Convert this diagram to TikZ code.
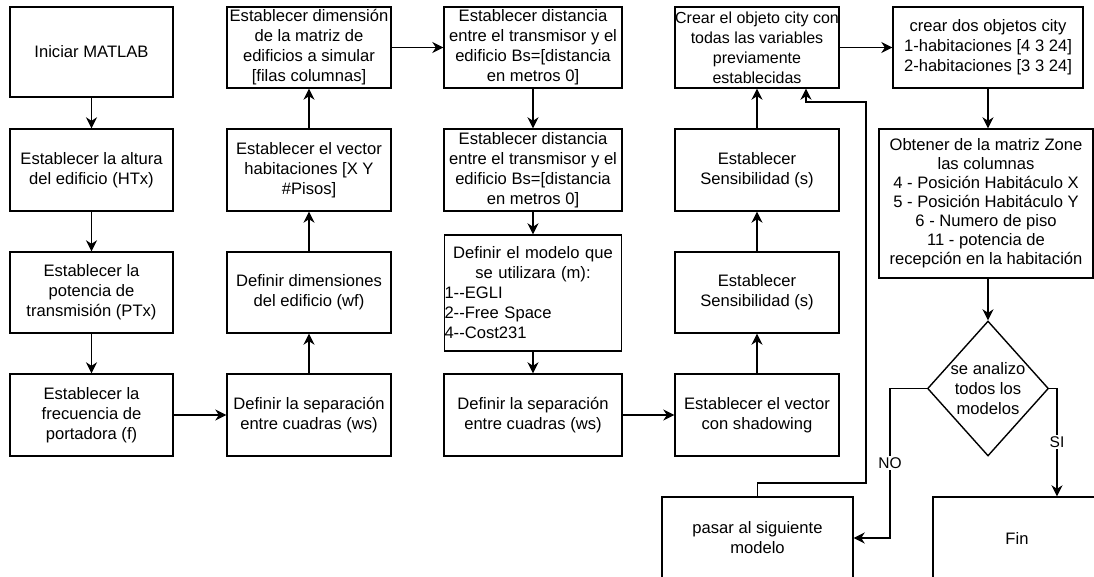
\documentclass[tikz,border=0pt]{standalone}
\usepackage{fontspec}
\setmainfont{Liberation Sans}[Ligatures=TeXOff]
\usetikzlibrary{arrows.meta,shapes.geometric}
\begin{document}
\begin{tikzpicture}[x=1pt,y=-1pt,
  box/.style={draw, line width=1.4pt, inner sep=0pt, align=center, font=\fontsize{16.6}{20}\selectfont},
  lbl/.style={inner sep=1pt, align=center, font=\fontsize{16.6}{20}\selectfont},
  elab/.style={fill=white, inner sep=1.5pt, font=\fontsize{15.5}{18}\selectfont},
  arr/.style={line width=1.4pt, -{Stealth[length=11pt,width=11pt,inset=3.5pt]}}]
\clip (0,0) rectangle (1094,577);
\fill[white] (0,0) rectangle (1094,577);
% column 1
\node[box, minimum width=163pt, minimum height=90pt] (n1) at (91.5,52) {Iniciar MATLAB};
\node[box, minimum width=163pt, minimum height=82pt] (n2) at (91.5,170) {Establecer la altura\\del edificio (HTx)};
\node[box, minimum width=163pt, minimum height=81pt] (n3) at (91.5,292.5) {Establecer la\\potencia de\\transmisión (PTx)};
\node[box, minimum width=163pt, minimum height=82pt] (n4) at (91.5,415) {Establecer la\\frecuencia de\\portadora (f)};
% column 2
\node[box, minimum width=164pt, minimum height=81pt] (m1) at (309,47.5) {Establecer dimensión\\de la matriz de\\edificios a simular\\{[}filas columnas{]}};
\node[box, minimum width=164pt, minimum height=82pt] (m2) at (309,170) {Establecer el vector\\habitaciones [X Y\\\#Pisos]};
\node[box, minimum width=164pt, minimum height=81pt] (m3) at (309,292.5) {Definir dimensiones\\del edificio (wf)};
\node[box, minimum width=164pt, minimum height=82pt] (m4) at (309,415) {Definir la separación\\entre cuadras (ws)};
% column 3
\node[box, minimum width=178pt, minimum height=81pt] (c1) at (533,47.5) {Establecer distancia\\entre el transmisor y el\\edificio Bs=[distancia\\en metros 0{]}};
\node[box, minimum width=178pt, minimum height=82pt] (c2) at (533,170) {Establecer distancia\\entre el transmisor y el\\edificio Bs=[distancia\\en metros 0{]}};
\node[box, minimum height=116pt, text width=177pt, align=left] (c3) at (533,293) {\makebox[177pt]{Definir el modelo que}\\\makebox[177pt]{se utilizara (m):}\\1--EGLI\\2--Free Space\\4--Cost231};
\node[box, minimum width=178pt, minimum height=82pt] (c4) at (533,415) {Definir la separación\\entre cuadras (ws)};
% column 4
\node[box, minimum width=164pt, minimum height=81pt, font=\fontsize{16}{20}\selectfont] (d1) at (757,47.5) {Crear el objeto city con\\todas las variables\\previamente\\establecidas};
\node[box, minimum width=164pt, minimum height=82pt] (d2) at (757,170) {Establecer\\Sensibilidad (s)};
\node[box, minimum width=164pt, minimum height=81pt] (d3) at (757,292.5) {Establecer\\Sensibilidad (s)};
\node[box, minimum width=164pt, minimum height=82pt] (d4) at (757,415) {Establecer el vector\\con shadowing};
\node[box, minimum width=191pt, minimum height=82pt] (pasar) at (757.5,538) {pasar al siguiente\\modelo};
% column 5
\node[box, minimum width=190pt, minimum height=81pt] (e1) at (988,47.5) {crear dos objetos city\\1-habitaciones [4 3 24{]}\\2-habitaciones [3 3 24{]}};
\node[box, minimum width=214pt, minimum height=149pt, font=\fontsize{16.6}{19}\selectfont] (ob) at (986,203.5) {Obtener de la matriz Zone\\las columnas\\4 - Posición Habitáculo X\\5 - Posición Habitáculo Y\\6 - Numero de piso\\11 - potencia de\\recepción en la habitación};
\node[draw, line width=1.4pt, diamond, minimum width=121pt, minimum height=135pt, inner sep=0pt] (dia) at (988,388.5) {};
\node[lbl] (diat) at (dia.center) {se analizo\\todos los\\modelos};
\node[box, minimum width=168pt, minimum height=82pt] (fin) at (1017,538) {Fin};
% connectors
\draw[arr] (n1) -- (n2);
\draw[arr] (n2) -- (n3);
\draw[arr] (n3) -- (n4);
\draw[arr] (n4) -- (m4);
\draw[arr] (m4) -- (m3);
\draw[arr] (m3) -- (m2);
\draw[arr] (m2) -- (m1);
\draw[arr] (m1) -- (c1);
\draw[arr] (c1) -- (c2);
\draw[arr] (c2) -- (c3);
\draw[arr] (c3) -- (c4);
\draw[arr] (c4) -- (d4);
\draw[arr] (d4) -- (d3);
\draw[arr] (d3) -- (d2);
\draw[arr] (d2) -- (d1);
\draw[arr] (d1) -- (e1);
\draw[arr] (e1.south) -- (e1.south |- ob.north);
\draw[arr] (ob.south -| dia.north) -- (dia.north);
\coordinate (k1) at (890,388.5);
\coordinate (k2) at (1057,388.5);
\draw[arr] (dia.west) -- (k1) |- node[elab, pos=0.25] {NO} (pasar.east);
\draw[arr] (dia.east) -- (k2) -- node[elab] {SI} (k2 |- fin.north);
\coordinate (r1) at (866,483);
\coordinate (r2) at (806,102);
\draw[arr] (pasar.north) |- (r1) |- (r2) -- (r2 |- d1.south);
\end{tikzpicture}
\end{document}
